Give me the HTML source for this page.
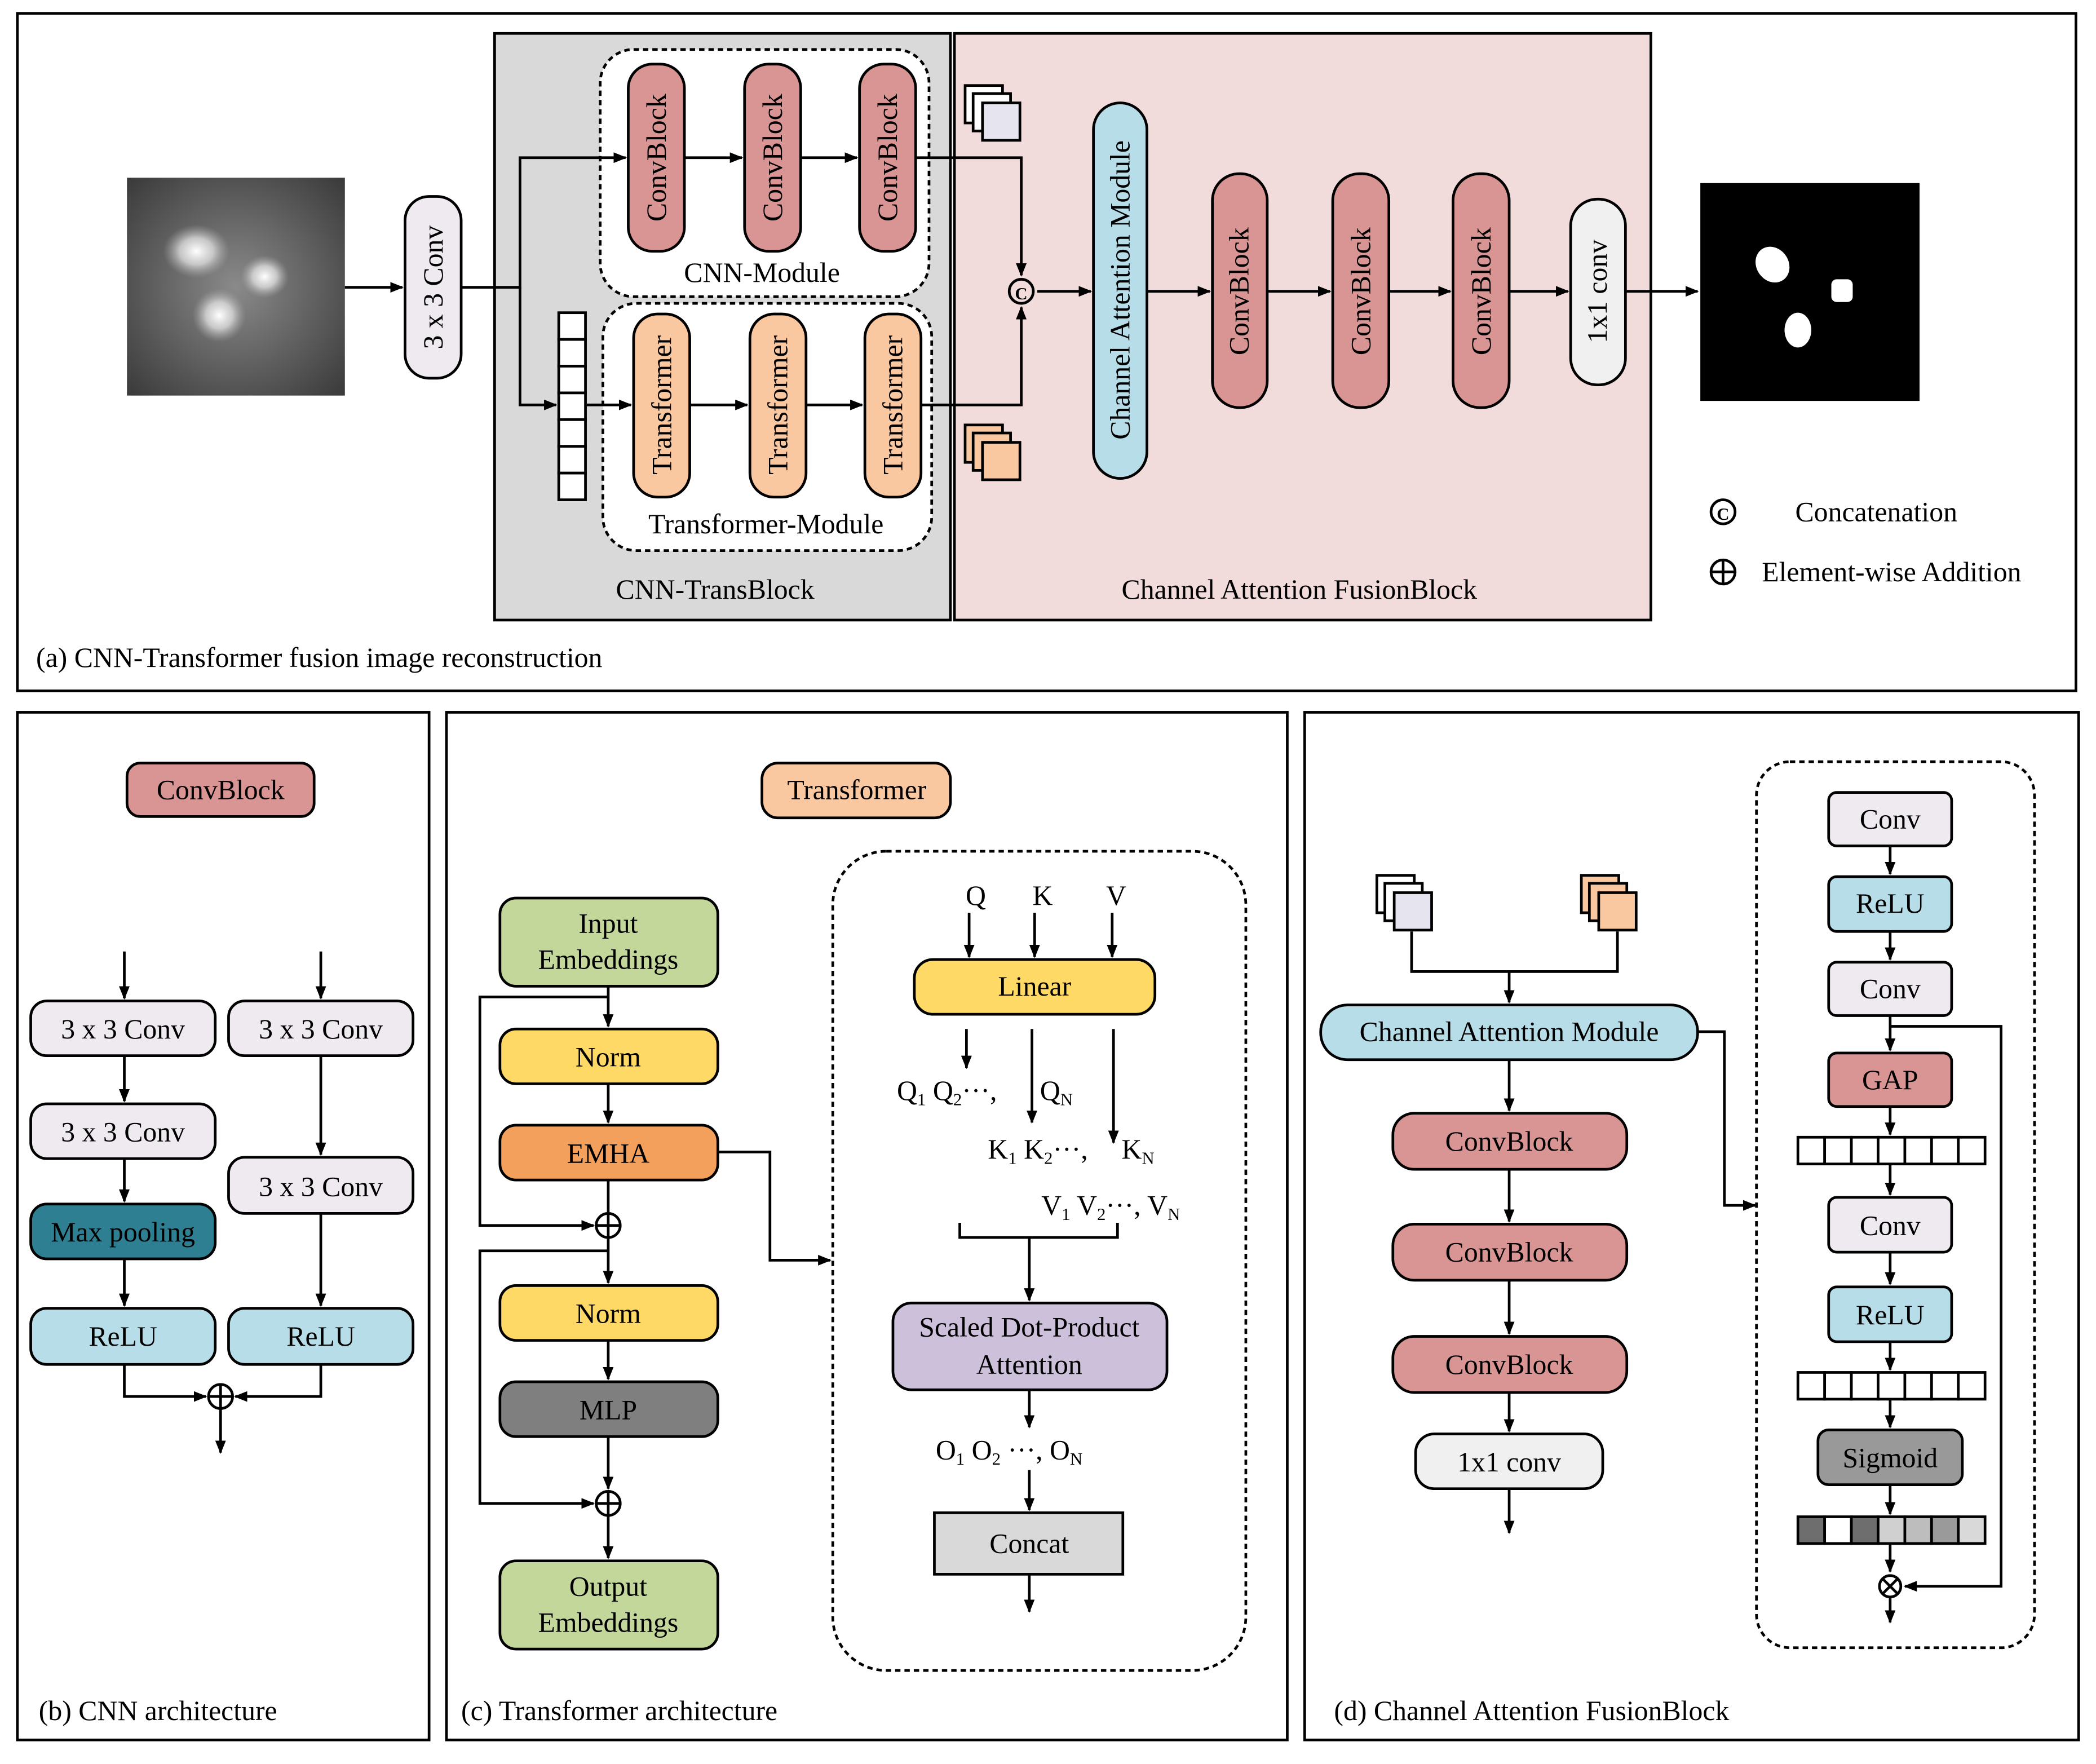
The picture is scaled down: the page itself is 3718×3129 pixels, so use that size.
<!DOCTYPE html>
<html><head><meta charset="utf-8"><style>
html,body{margin:0;padding:0;background:#fff}
svg{display:block}
text{font-family:"Liberation Serif",serif;fill:#000}
</style></head><body>
<svg width="3718" height="3129" viewBox="0 0 1568 1320" preserveAspectRatio="none" xmlns="http://www.w3.org/2000/svg">
<defs>
<marker id="ar" markerWidth="10" markerHeight="8" refX="9" refY="4" orient="auto" markerUnits="userSpaceOnUse"><path d="M0,0 L10,4 L0,8 z" fill="#000"/></marker>
<radialGradient id="bg1" cx="50%" cy="50%" r="70%"><stop offset="0" stop-color="#8a8a8a"/><stop offset="1" stop-color="#3a3a3a"/></radialGradient>
<radialGradient id="bl" cx="50%" cy="50%" r="50%"><stop offset="0" stop-color="#fff"/><stop offset="0.5" stop-color="#ddd" stop-opacity="0.8"/><stop offset="1" stop-color="#aaa" stop-opacity="0"/></radialGradient>
</defs>
<g stroke="#000" stroke-width="2" fill="none">
<!-- panels -->
<rect x="13" y="10" width="1540" height="507"/>
<rect x="13" y="533" width="308" height="769"/>
<rect x="334" y="533" width="629" height="769"/>
<rect x="976" y="533" width="579" height="769"/>
<rect x="370" y="25" width="341" height="439" fill="#d9d9d9"/>
<rect x="714" y="25" width="521" height="439" fill="#f2dcdb"/>
<rect x="449" y="37" width="246" height="185" rx="25" fill="#fff" stroke-dasharray="4,3"/>
<rect x="451" y="227" width="246" height="185" rx="25" fill="#fff" stroke-dasharray="4,3"/>
</g>
<!-- input image -->
<rect x="95" y="133" width="163" height="163" fill="url(#bg1)"/>
<ellipse cx="147" cy="188" rx="25" ry="20" fill="url(#bl)"/>
<ellipse cx="198" cy="207" rx="18" ry="16" fill="url(#bl)"/>
<ellipse cx="164" cy="236" rx="20" ry="20" fill="url(#bl)"/>
<!-- output image -->
<rect x="1272" y="137" width="164" height="163" fill="#000"/>
<ellipse cx="1326" cy="198" rx="12" ry="14" fill="#fff" transform="rotate(-35 1326 198)"/>
<rect x="1370" y="209" width="16" height="17" rx="4" fill="#fff"/>
<ellipse cx="1345" cy="247" rx="10" ry="13" fill="#fff"/>

<g stroke="#000" stroke-width="2">
<rect x="303" y="147" width="42" height="136" rx="18" fill="#eeeaf0"/>
<rect x="470" y="48" width="42" height="140" rx="18" fill="#d99594"/>
<rect x="557" y="48" width="42" height="140" rx="18" fill="#d99594"/>
<rect x="643" y="48" width="42" height="140" rx="18" fill="#d99594"/>
<rect x="474" y="235" width="42" height="137" rx="18" fill="#f9c7a0"/>
<rect x="561" y="235" width="42" height="137" rx="18" fill="#f9c7a0"/>
<rect x="647" y="235" width="42" height="137" rx="18" fill="#f9c7a0"/>
<rect x="818" y="77" width="40" height="281" rx="20" fill="#b7dde8"/>
<rect x="907" y="130" width="41" height="175" rx="20" fill="#d99594"/>
<rect x="997" y="130" width="42" height="175" rx="20" fill="#d99594"/>
<rect x="1087" y="130" width="42" height="175" rx="20" fill="#d99594"/>
<rect x="1175" y="149" width="41" height="139" rx="20" fill="#f0f0f0"/>
</g>
<g fill="#fff" stroke="#000" stroke-width="2">
<rect x="418" y="234" width="20" height="20"/><rect x="418" y="254" width="20" height="20"/><rect x="418" y="274" width="20" height="20"/><rect x="418" y="294" width="20" height="20"/><rect x="418" y="314" width="20" height="20"/><rect x="418" y="334" width="20" height="20"/><rect x="418" y="354" width="20" height="20"/>
<!-- stacked icons a -->
<rect x="722" y="64" width="28" height="28" fill="#fff"/><rect x="728" y="70" width="28" height="28" fill="#fff"/><rect x="735" y="77" width="28" height="28" fill="#e6e4ee"/>
<rect x="722" y="318" width="28" height="28" fill="#f9c7a0"/><rect x="728" y="324" width="28" height="28" fill="#f9c7a0"/><rect x="735" y="331" width="28" height="28" fill="#f9c7a0"/>
<!-- d icons -->
<rect x="1030" y="655" width="28" height="28"/><rect x="1036" y="661" width="28" height="28"/><rect x="1043" y="668" width="28" height="28" fill="#e6e4ee"/>
<rect x="1183" y="655" width="28" height="28" fill="#f9c7a0"/><rect x="1189" y="661" width="28" height="28" fill="#f9c7a0"/><rect x="1196" y="668" width="28" height="28" fill="#f9c7a0"/>
</g>
<g stroke="#000" stroke-width="2" fill="none">
<path d="M258 215 H301" marker-end="url(#ar)"/>
<path d="M345 215 H389 V118 H468" marker-end="url(#ar)"/>
<path d="M389 215 V303 H416" marker-end="url(#ar)"/>
<path d="M438 303 H472" marker-end="url(#ar)"/>
<path d="M512 118 H555" marker-end="url(#ar)"/>
<path d="M599 118 H641" marker-end="url(#ar)"/>
<path d="M516 303 H559" marker-end="url(#ar)"/>
<path d="M603 303 H645" marker-end="url(#ar)"/>
<path d="M685 118 H764 V206" marker-end="url(#ar)"/>
<path d="M689 303 H764 V230" marker-end="url(#ar)"/>
<path d="M776 218 H816" marker-end="url(#ar)"/>
<path d="M858 218 H905" marker-end="url(#ar)"/>
<path d="M948 218 H995" marker-end="url(#ar)"/>
<path d="M1039 218 H1085" marker-end="url(#ar)"/>
<path d="M1129 218 H1173" marker-end="url(#ar)"/>
<path d="M1216 218 H1270" marker-end="url(#ar)"/>
<circle cx="764" cy="218" r="9"/>
<circle cx="1289" cy="383" r="9"/>
<circle cx="1289" cy="428" r="9"/><path d="M1280 428 H1298 M1289 419 V437"/>
</g>
<text x="764" y="224" font-size="13" text-anchor="middle" font-weight="bold">C</text>
<text x="1289" y="389" font-size="13" text-anchor="middle" font-weight="bold">C</text>
<g font-size="21">
<text transform="translate(331 215) rotate(-90)" text-anchor="middle">3 x 3 Conv</text>
<text transform="translate(498 118) rotate(-90)" text-anchor="middle">ConvBlock</text>
<text transform="translate(585 118) rotate(-90)" text-anchor="middle">ConvBlock</text>
<text transform="translate(671 118) rotate(-90)" text-anchor="middle">ConvBlock</text>
<text transform="translate(502 303) rotate(-90)" text-anchor="middle">Transformer</text>
<text transform="translate(589 303) rotate(-90)" text-anchor="middle">Transformer</text>
<text transform="translate(675 303) rotate(-90)" text-anchor="middle">Transformer</text>
<text transform="translate(845 217) rotate(-90)" text-anchor="middle">Channel Attention Module</text>
<text transform="translate(934 218) rotate(-90)" text-anchor="middle">ConvBlock</text>
<text transform="translate(1025 218) rotate(-90)" text-anchor="middle">ConvBlock</text>
<text transform="translate(1115 218) rotate(-90)" text-anchor="middle">ConvBlock</text>
<text transform="translate(1202 218) rotate(-90)" text-anchor="middle">1x1 conv</text>
<text x="570" y="211" text-anchor="middle">CNN-Module</text>
<text x="573" y="399" text-anchor="middle">Transformer-Module</text>
<text x="535" y="448" text-anchor="middle">CNN-TransBlock</text>
<text x="972" y="448" text-anchor="middle">Channel Attention FusionBlock</text>
<text x="1343" y="390">Concatenation</text>
<text x="1318" y="435">Element-wise Addition</text>
<text x="27" y="499">(a) CNN-Transformer fusion image reconstruction</text>
<text x="29" y="1287">(b) CNN architecture</text>
<text x="345" y="1287">(c) Transformer architecture</text>
<text x="998" y="1287">(d) Channel Attention FusionBlock</text>
</g>

<!-- (b) -->
<g stroke="#000" stroke-width="2">
<rect x="95" y="571" width="140" height="40" rx="10" fill="#d99594"/>
<rect x="23" y="749" width="138" height="41" rx="12" fill="#eeeaf0"/>
<rect x="171" y="749" width="138" height="41" rx="12" fill="#eeeaf0"/>
<rect x="23" y="826" width="138" height="41" rx="12" fill="#eeeaf0"/>
<rect x="171" y="866" width="138" height="42" rx="12" fill="#eeeaf0"/>
<rect x="23" y="901" width="138" height="41" rx="12" fill="#2e7f92"/>
<rect x="23" y="979" width="138" height="42" rx="12" fill="#b7dde8"/>
<rect x="171" y="979" width="138" height="42" rx="12" fill="#b7dde8"/>
</g>
<g stroke="#000" stroke-width="2" fill="none">
<path d="M93 712 V747" marker-end="url(#ar)"/><path d="M240 712 V747" marker-end="url(#ar)"/>
<path d="M93 790 V824" marker-end="url(#ar)"/><path d="M93 867 V899" marker-end="url(#ar)"/>
<path d="M93 942 V977" marker-end="url(#ar)"/><path d="M240 790 V864" marker-end="url(#ar)"/>
<path d="M240 908 V977" marker-end="url(#ar)"/>
<path d="M93 1021 V1045 H154" marker-end="url(#ar)"/><path d="M240 1021 V1045 H176" marker-end="url(#ar)"/>
<circle cx="165" cy="1045" r="9"/><path d="M156 1045 H174 M165 1036 V1054"/>
<path d="M165 1054 V1087" marker-end="url(#ar)"/>
</g>
<g font-size="21" text-anchor="middle">
<text x="165" y="598">ConvBlock</text>
<text x="92" y="777">3 x 3 Conv</text><text x="240" y="777">3 x 3 Conv</text>
<text x="92" y="854">3 x 3 Conv</text><text x="240" y="895">3 x 3 Conv</text>
<text x="92" y="929">Max pooling</text>
<text x="92" y="1007">ReLU</text><text x="240" y="1007">ReLU</text>
</g>

<!-- (c) -->
<g stroke="#000" stroke-width="2">
<rect x="570" y="571" width="141" height="41" rx="12" fill="#f9c7a0"/>
<rect x="374" y="672" width="163" height="66" rx="12" fill="#c4d79b"/>
<rect x="374" y="770" width="163" height="41" rx="12" fill="#ffd966"/>
<rect x="374" y="842" width="163" height="41" rx="12" fill="#f2a05c"/>
<rect x="374" y="962" width="163" height="41" rx="12" fill="#ffd966"/>
<rect x="374" y="1034" width="163" height="41" rx="12" fill="#7f7f7f"/>
<rect x="374" y="1168" width="163" height="66" rx="12" fill="#c4d79b"/>
<rect x="623" y="637" width="309" height="613" rx="40" fill="none" stroke-dasharray="4,3"/>
<rect x="684" y="718" width="180" height="41" rx="14" fill="#ffd966"/>
<rect x="668" y="975" width="205" height="65" rx="14" fill="#ccc0da"/>
<rect x="699" y="1132" width="141" height="46" fill="#d9d9d9"/>
</g>
<g stroke="#000" stroke-width="2" fill="none">
<path d="M455 738 V768" marker-end="url(#ar)"/>
<path d="M455 811 V840" marker-end="url(#ar)"/>
<path d="M455 883 V907"/>
<circle cx="455" cy="917" r="9"/><path d="M446 917 H464 M455 908 V926"/>
<path d="M455 746 H359 V917 H444" marker-end="url(#ar)"/>
<path d="M455 926 V960" marker-end="url(#ar)"/>
<path d="M455 936 H359 V1125 H444" marker-end="url(#ar)"/>
<path d="M455 1003 V1032" marker-end="url(#ar)"/>
<path d="M455 1075 V1114" marker-end="url(#ar)"/>
<circle cx="455" cy="1125" r="9"/><path d="M446 1125 H464 M455 1116 V1134"/>
<path d="M455 1134 V1166" marker-end="url(#ar)"/>
<path d="M537 862 H576 V943 H621" marker-end="url(#ar)"/>
<path d="M725 683 V716" marker-end="url(#ar)"/>
<path d="M774 683 V716" marker-end="url(#ar)"/>
<path d="M832 683 V716" marker-end="url(#ar)"/>
<path d="M723 770 V799" marker-end="url(#ar)"/>
<path d="M772 770 V840" marker-end="url(#ar)"/>
<path d="M833 770 V855" marker-end="url(#ar)"/>
<path d="M718 915 V926 H836 V915"/>
<path d="M770 926 V973" marker-end="url(#ar)"/>
<path d="M770 1040 V1068" marker-end="url(#ar)"/>
<path d="M770 1100 V1130" marker-end="url(#ar)"/>
<path d="M770 1178 V1206" marker-end="url(#ar)"/>
</g>
<g font-size="21" text-anchor="middle">
<text x="641" y="598">Transformer</text>
<text x="455" y="698">Input</text><text x="455" y="725">Embeddings</text>
<text x="455" y="798">Norm</text><text x="455" y="870">EMHA</text>
<text x="455" y="990">Norm</text><text x="455" y="1062">MLP</text>
<text x="455" y="1194">Output</text><text x="455" y="1221">Embeddings</text>
<text x="730" y="677">Q</text><text x="780" y="677">K</text><text x="835" y="677">V</text>
<text x="774" y="745">Linear</text>
<text x="770" y="1000">Scaled Dot-Product</text><text x="770" y="1028">Attention</text>
<text x="770" y="1162">Concat</text>
</g>
<g font-size="21">
<text x="671" y="823">Q<tspan font-size="13" dy="4">1</tspan><tspan dy="-4"> Q</tspan><tspan font-size="13" dy="4">2</tspan><tspan dy="-4">···, </tspan><tspan x="778">Q</tspan><tspan font-size="13" dy="4">N</tspan></text>
<text x="739" y="867">K<tspan font-size="13" dy="4">1</tspan><tspan dy="-4"> K</tspan><tspan font-size="13" dy="4">2</tspan><tspan dy="-4">···, </tspan><tspan x="839">K</tspan><tspan font-size="13" dy="4">N</tspan></text>
<text x="779" y="909">V<tspan font-size="13" dy="4">1</tspan><tspan dy="-4"> V</tspan><tspan font-size="13" dy="4">2</tspan><tspan dy="-4">···, V</tspan><tspan font-size="13" dy="4">N</tspan></text>
<text x="700" y="1092">O<tspan font-size="13" dy="4">1</tspan><tspan dy="-4"> O</tspan><tspan font-size="13" dy="4">2</tspan><tspan dy="-4">  ···,  O</tspan><tspan font-size="13" dy="4">N</tspan></text>
</g>

<!-- (d) -->
<g stroke="#000" stroke-width="2">
<rect x="988" y="752" width="282" height="41" rx="20" fill="#b7dde8"/>
<rect x="1042" y="833" width="175" height="42" rx="16" fill="#d99594"/>
<rect x="1042" y="916" width="175" height="42" rx="16" fill="#d99594"/>
<rect x="1042" y="1000" width="175" height="42" rx="16" fill="#d99594"/>
<rect x="1059" y="1073" width="140" height="41" rx="14" fill="#f0f0f0"/>
<rect x="1314" y="570" width="208" height="663" rx="25" fill="none" stroke-dasharray="4,3"/>
<rect x="1368" y="593" width="92" height="40" rx="6" fill="#eeeaf0"/>
<rect x="1368" y="656" width="92" height="41" rx="6" fill="#b7dde8"/>
<rect x="1368" y="720" width="92" height="40" rx="6" fill="#eeeaf0"/>
<rect x="1368" y="788" width="92" height="40" rx="6" fill="#d99594"/>
<rect x="1368" y="896" width="92" height="41" rx="6" fill="#eeeaf0"/>
<rect x="1368" y="963" width="92" height="41" rx="6" fill="#b7dde8"/>
<rect x="1360" y="1070" width="108" height="41" rx="8" fill="#999"/>
</g>
<g stroke="#000" stroke-width="2" fill="#fff">
<rect x="1345" y="851" width="20" height="20"/><rect x="1365" y="851" width="20" height="20"/><rect x="1385" y="851" width="20" height="20"/><rect x="1405" y="851" width="20" height="20"/><rect x="1425" y="851" width="20" height="20"/><rect x="1445" y="851" width="20" height="20"/><rect x="1465" y="851" width="20" height="20"/>
<rect x="1345" y="1027" width="20" height="20"/><rect x="1365" y="1027" width="20" height="20"/><rect x="1385" y="1027" width="20" height="20"/><rect x="1405" y="1027" width="20" height="20"/><rect x="1425" y="1027" width="20" height="20"/><rect x="1445" y="1027" width="20" height="20"/><rect x="1465" y="1027" width="20" height="20"/>
<rect x="1345" y="1135" width="20" height="20" fill="#6e6e6e"/><rect x="1365" y="1135" width="20" height="20"/><rect x="1385" y="1135" width="20" height="20" fill="#6e6e6e"/><rect x="1405" y="1135" width="20" height="20" fill="#d0d0d0"/><rect x="1425" y="1135" width="20" height="20" fill="#bdbdbd"/><rect x="1445" y="1135" width="20" height="20" fill="#9a9a9a"/><rect x="1465" y="1135" width="20" height="20" fill="#d9d9d9"/>
</g>
<g stroke="#000" stroke-width="2" fill="none">
<path d="M1056 697 V727 H1210 V697"/>
<path d="M1129 727 V750" marker-end="url(#ar)"/>
<path d="M1129 793 V831" marker-end="url(#ar)"/>
<path d="M1129 875 V914" marker-end="url(#ar)"/>
<path d="M1129 958 V998" marker-end="url(#ar)"/>
<path d="M1129 1042 V1071" marker-end="url(#ar)"/>
<path d="M1129 1114 V1147" marker-end="url(#ar)"/>
<path d="M1270 772 H1290 V902 H1313" marker-end="url(#ar)"/>
<path d="M1414 633 V654" marker-end="url(#ar)"/>
<path d="M1414 697 V718" marker-end="url(#ar)"/>
<path d="M1414 760 V786" marker-end="url(#ar)"/>
<path d="M1414 828 V849" marker-end="url(#ar)"/>
<path d="M1414 871 V894" marker-end="url(#ar)"/>
<path d="M1414 937 V961" marker-end="url(#ar)"/>
<path d="M1414 1004 V1025" marker-end="url(#ar)"/>
<path d="M1414 1047 V1068" marker-end="url(#ar)"/>
<path d="M1414 1111 V1133" marker-end="url(#ar)"/>
<path d="M1414 1155 V1176" marker-end="url(#ar)"/>
<path d="M1414 768 H1497 V1187 H1425" marker-end="url(#ar)"/>
<circle cx="1414" cy="1187" r="8"/><path d="M1408 1181 L1420 1193 M1420 1181 L1408 1193"/>
<path d="M1414 1195 V1214" marker-end="url(#ar)"/>
</g>
<g font-size="21" text-anchor="middle">
<text x="1129" y="779">Channel Attention Module</text>
<text x="1129" y="861">ConvBlock</text><text x="1129" y="944">ConvBlock</text><text x="1129" y="1028">ConvBlock</text>
<text x="1129" y="1101">1x1 conv</text>
<text x="1414" y="620">Conv</text><text x="1414" y="683">ReLU</text><text x="1414" y="747">Conv</text>
<text x="1414" y="815">GAP</text><text x="1414" y="924">Conv</text><text x="1414" y="991">ReLU</text>
<text x="1414" y="1098">Sigmoid</text>
</g>
</svg>
</body></html>
